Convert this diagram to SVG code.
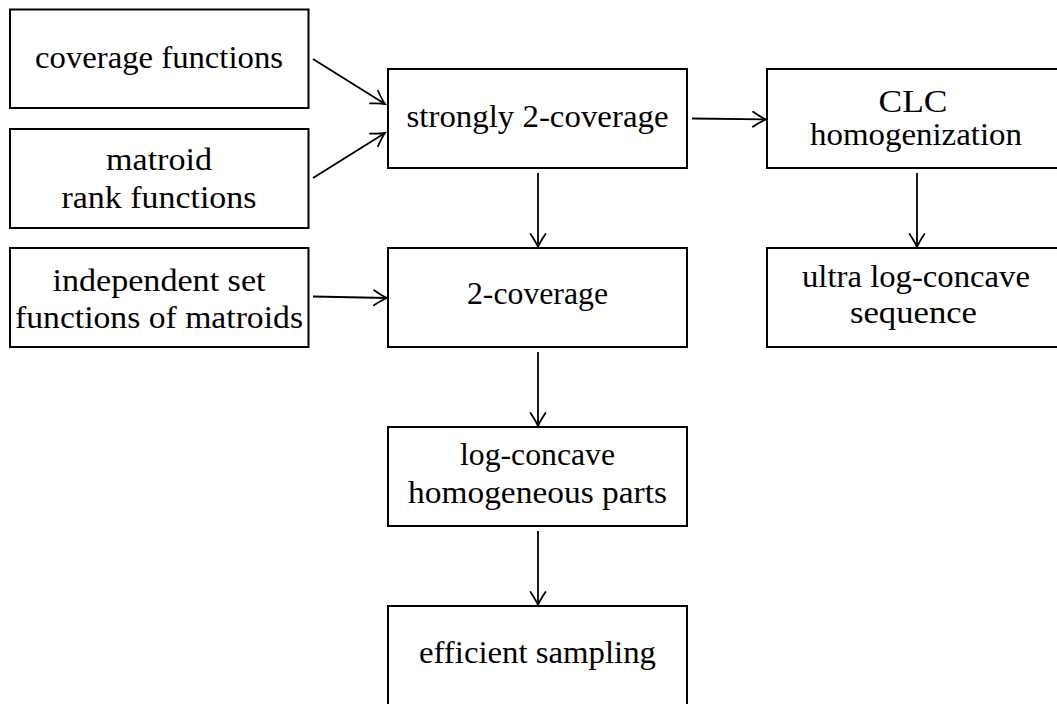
<svg xmlns="http://www.w3.org/2000/svg" width="1057" height="704" viewBox="0 0 1057 704">
<defs>
<style>
.box{fill:#fff;stroke:#000;stroke-width:2}
.t{font-size:31px;fill:#000;text-anchor:middle}
.c{fill:none;stroke:#000;stroke-width:1.8}
</style>
<marker id="ah" markerUnits="userSpaceOnUse" viewBox="-16 -9 18 18" refX="0" refY="0" markerWidth="18" markerHeight="18" orient="auto" overflow="visible">
<path d="M-13,-7.5 Q-4.5,-1.8 0,0 Q-4.5,1.8 -13,7.5" fill="none" stroke="#000" stroke-width="1.8" stroke-linecap="round"/>
</marker>
</defs>
<rect width="1057" height="704" fill="#fff"/>
<g font-family="'Liberation Serif', 'DejaVu Serif', serif">
<g id="n-coverage"><rect class="box" x="10" y="9.5" width="298.5" height="98.5"/><text class="t" x="159" y="68" textLength="248" lengthAdjust="spacingAndGlyphs">coverage functions</text></g>
<g id="n-matroid"><rect class="box" x="10" y="129" width="298.5" height="99"/><text class="t" x="159" y="170" textLength="106" lengthAdjust="spacingAndGlyphs">matroid</text><text class="t" x="159" y="208" textLength="195" lengthAdjust="spacingAndGlyphs">rank functions</text></g>
<g id="n-independent"><rect class="box" x="10" y="248" width="298.5" height="99"/><text class="t" x="159" y="291" textLength="213" lengthAdjust="spacingAndGlyphs">independent set</text><text class="t" x="159" y="328" textLength="288" lengthAdjust="spacingAndGlyphs">functions of matroids</text></g>
<g id="n-strongly"><rect class="box" x="388" y="69" width="299" height="99"/><text class="t" x="537.5" y="127" textLength="262" lengthAdjust="spacingAndGlyphs">strongly 2-coverage</text></g>
<g id="n-2cov"><rect class="box" x="388" y="248" width="299" height="99"/><text class="t" x="537.5" y="304" textLength="141" lengthAdjust="spacingAndGlyphs">2-coverage</text></g>
<g id="n-logconcave"><rect class="box" x="388" y="427" width="299" height="99"/><text class="t" x="537.5" y="465" textLength="155" lengthAdjust="spacingAndGlyphs">log-concave</text><text class="t" x="537.5" y="503" textLength="259" lengthAdjust="spacingAndGlyphs">homogeneous parts</text></g>
<g id="n-sampling"><rect class="box" x="388" y="606" width="299" height="110"/><text class="t" x="537.5" y="663" textLength="237" lengthAdjust="spacingAndGlyphs">efficient sampling</text></g>
<g id="n-clc"><rect class="box" x="767" y="69" width="299" height="99"/><text class="t" x="913" y="112" textLength="69" lengthAdjust="spacingAndGlyphs">CLC</text><text class="t" x="916" y="145" textLength="212" lengthAdjust="spacingAndGlyphs">homogenization</text></g>
<g id="n-ulc"><rect class="box" x="767" y="248" width="299" height="99"/><text class="t" x="916" y="287" textLength="228" lengthAdjust="spacingAndGlyphs">ultra log-concave</text><text class="t" x="913.5" y="323" textLength="127" lengthAdjust="spacingAndGlyphs">sequence</text></g>
</g>
<g id="connectors">
<line class="c" x1="313" y1="59" x2="385" y2="104" marker-end="url(#ah)"/>
<line class="c" x1="313" y1="178" x2="385" y2="133" marker-end="url(#ah)"/>
<line class="c" x1="313" y1="296.5" x2="387" y2="298" marker-end="url(#ah)"/>
<line class="c" x1="692" y1="118.5" x2="766" y2="119.5" marker-end="url(#ah)"/>
<line class="c" x1="538" y1="173" x2="538" y2="247" marker-end="url(#ah)"/>
<line class="c" x1="538" y1="352" x2="538" y2="426" marker-end="url(#ah)"/>
<line class="c" x1="538" y1="531" x2="538" y2="605" marker-end="url(#ah)"/>
<line class="c" x1="917" y1="173" x2="917" y2="247" marker-end="url(#ah)"/>
</g>
</svg>
